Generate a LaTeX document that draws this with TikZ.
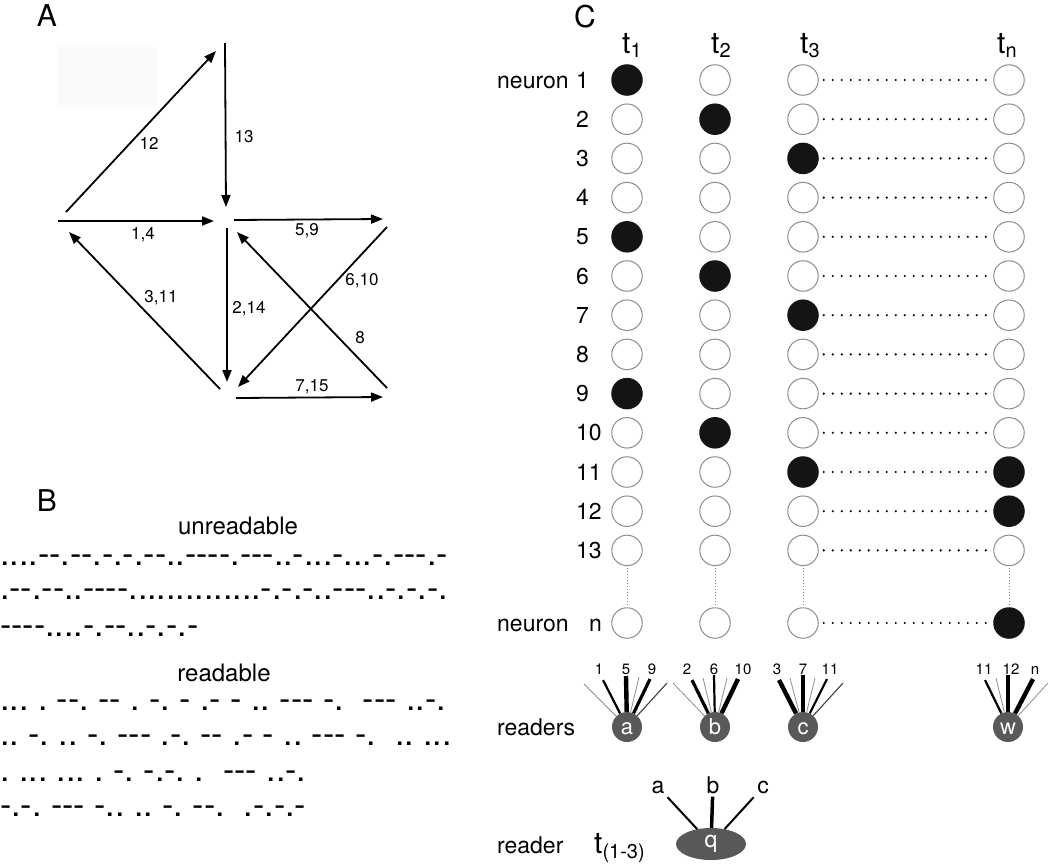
\documentclass[tikz,border=0pt]{standalone}
\usepackage{fontspec}
\setmainfont{TeX Gyre Heros}
\newfontfamily\morsefont{TeX Gyre Heros}
\usetikzlibrary{arrows.meta,shapes.geometric}
\newcommand{\fsz}[1]{\fontsize{#1}{#1}\selectfont}
\tikzset{
  cs-1-1/.style={on}, cs-1-5/.style={on}, cs-1-9/.style={on},
  cs-2-2/.style={on}, cs-2-6/.style={on}, cs-2-10/.style={on},
  cs-3-3/.style={on}, cs-3-7/.style={on}, cs-3-11/.style={on},
  cs-n-11/.style={on}, cs-n-12/.style={on}, cs-n-n/.style={on}
}
\begin{document}
\begin{tikzpicture}[x=1pt,y=-1pt,
  arr/.style={line width=1.8pt,-{Triangle[length=12pt,width=9pt]}},
  alab/.style={font={\fsz{17}},inner sep=0pt},
  plab/.style={font={\fsz{30}},inner sep=0pt},
  morse/.style={font={\morsefont\fsz{34}\frenchspacing},inner sep=0pt,anchor=base west},
  btitle/.style={font={\fsz{24}},inner sep=0pt,anchor=base},
  cell/.style={circle,draw=black!45,line width=1pt,minimum size=30.5pt,inner sep=0pt,fill=white},
  on/.style={fill=black!92,draw=black!92},
  hdots/.style={line width=2.4pt,dash pattern=on 0pt off 9pt,line cap=round,shorten <=5pt,shorten >=4pt},
  vdots/.style={black!50,line width=0.9pt,dash pattern=on 1pt off 2pt,shorten <=2pt,shorten >=2pt},
  rowlbl/.style={font={\fsz{23}},inner sep=0pt,anchor=base west},
  tlbl/.style={font={\fsz{30}},inner sep=0pt,anchor=base west},
  reader/.style={circle,fill=black!65,minimum size=30pt,inner sep=0pt,text=white,font={\fsz{22}},text height=15pt,text depth=0pt},
  fanlbl/.style={font={\fsz{15}},inner sep=0pt,anchor=base},
  fthin/.style={line width=0.8pt,black!45},
  fdark/.style={line width=1.1pt,black!75},
  fmed/.style={line width=2.2pt,black},
  fbold/.style={line width=3.2pt,black},
  fthick/.style={line width=4.4pt,black}
]
\useasboundingbox (0,0) rectangle (1050,865);

% ---------------- Panel A ----------------
\node[plab] (A) at (47,16) {A};
\fill[black!2] (57,47) rectangle (157,105);
\coordinate (s12) at (66,212);   \coordinate (e12) at (216,51);
\coordinate (s13) at (225,43);   \coordinate (e13) at (226,207);
\coordinate (s14) at (58,221);   \coordinate (e14) at (214,221);
\coordinate (s59) at (234,220);  \coordinate (e59) at (383,219);
\coordinate (s214) at (227,228); \coordinate (e214) at (227,382);
\coordinate (s311) at (220,389); \coordinate (e311) at (69,232);
\coordinate (s610) at (387,227); \coordinate (e610) at (238,387);
\coordinate (s8) at (387,388);   \coordinate (e8) at (237,232);
\coordinate (s715) at (236,398); \coordinate (e715) at (383,397);
\draw[arr] (s12) -- (e12);
\draw[arr] (s13) -- (e13);
\draw[arr] (s14) -- (e14);
\draw[arr] (s59) -- (e59);
\draw[arr] (s214) -- (e214);
\draw[arr] (s311) -- (e311);
\draw[arr] (s610) -- (e610);
\draw[arr] (s8) -- (e8);
\draw[arr] (s715) -- (e715);
\node[alab] (l12) at (149,143) {12};
\node[alab] (l13) at (244,137) {13};
\node[alab] (l14) at (143,235) {1,4};
\node[alab] (l59) at (307,231) {5,9};
\node[alab] (l311) at (161,298) {3,11};
\node[alab] (l214) at (249,309) {2,14};
\node[alab] (l610) at (362,281) {6,10};
\node[alab] (l8) at (360,338) {8};
\node[alab] (l715) at (312,387) {7,15};

% ---------------- Panel B ----------------
\node[plab] (B) at (47,501) {B};
\node[btitle] (unr) at (238,534) {unreadable};
\node[morse] (u1) at (0,565) {....--.--.-.-.--..----.---..-...-...-.---.-};
\node[morse] (u2) at (0,599) {.--.--..----..............-.-.-..---..-.-.-.};
\node[morse] (u3) at (0,636) {----....-.--..-.-.-};
\node[btitle] (rdb) at (224,681) {readable};
\node[morse] (r1) at (0,710.5) {... . --. -- . -. - .- - .. --- -.~~--- ..-.};
\node[morse] (r2) at (0,745.5) {.. -. .. -. --- .-. -- .- - .. --- -.~~.. ...};
\node[morse] (r3) at (0,781) {. ... ... . -. -.-. .~~--- ..-.};
\node[morse] (r4) at (0,816) {-.-. --- -.. .. -. --.~~.-.-.-};

% ---------------- Panel C ----------------
\node[plab] (C) at (585,17) {C};
\node[tlbl] (t1) at (622,53) {t\raisebox{-4pt}{\fsz{20}1}};
\node[tlbl] (t2) at (711,53) {t\raisebox{-4pt}{\fsz{20}2}};
\node[tlbl] (t3) at (800,53) {t\raisebox{-4pt}{\fsz{20}3}};
\node[tlbl] (tn) at (997,53) {t\raisebox{-4pt}{\fsz{20}n}};

\foreach \c/\x in {1/627,2/715,3/803,n/1009} {
  \foreach \r in {1,...,13} {
    \node[cell,cs-\c-\r/.try] (c-\c-\r) at (\x,{80+39.2*(\r-1)}) {};
  }
  \node[cell,cs-\c-n/.try] (c-\c-n) at (\x,623) {};
}
\foreach \r in {1,...,13,n} \draw[hdots] (c-3-\r) -- (c-n-\r);
\foreach \c in {1,2,3,n} \draw[vdots] (c-\c-13) -- (c-\c-n);

\node[rowlbl] (nrn-1) at (497,88) {neuron};
\foreach \r in {1,...,13} \node[rowlbl] (rl-\r) at (576,{88+39.2*(\r-1)}) {\r};
\node[rowlbl] (nrn-n) at (497,631) {neuron};
\node[rowlbl] (rl-n) at (589,631) {n};

% readers
\node[rowlbl] (rdrs) at (497,735) {readers};
\node[reader] (ra) at (627,727) {a};
\node[reader] (rb) at (715,727) {b};
\node[reader] (rc) at (803,727) {c};
\node[reader] (rw) at (1008,727) {w};
\foreach \t/\x in {1/599,5/626,9/652,2/687,6/714,10/743,3/777,7/803,11/830,11/984,12/1011,n/1035}
  \node[fanlbl] at (\x,674) {\t};
\foreach \rd/\cx/\dx/\dy/\st [count=\i] in {
  ra/627/-43/-43/fthin, ra/627/-24/-47/fmed, ra/627/-1/-51/fthick, ra/627/12/-50/fthin, ra/627/23/-48/fbold, ra/627/40/-44/fdark,
  rb/715/-42/-44/fthin, rb/715/-23/-47/fbold, rb/715/-12/-49/fthin, rb/715/-1/-52/fmed, rb/715/12/-49/fthin, rb/715/23/-48/fthick,
  rc/803/-24/-47/fthick, rc/803/-13/-49/fthin, rc/803/0/-52/fbold, rc/803/12/-49/fthin, rc/803/24/-48/fmed, rc/803/40/-44/fdark,
  rw/1008/-23/-47/fmed, rw/1008/-12/-49/fthin, rw/1008/0/-52/fbold, rw/1008/25/-48/fthick, rw/1008/40/-44/fthin}
{
  \coordinate (ft\i) at ({\cx+\dx},{727+\dy});
  \draw[\st] (ft\i) -- (\rd);
}

% reader q
\node[rowlbl] (rdr) at (497,853) {reader};
\node[tlbl] (tq) at (594,853) {t\raisebox{-5pt}{\fsz{20}(1-3)}};
\node[ellipse,fill=black!65,minimum width=70pt,minimum height=32pt,inner sep=0pt,text=white,font={\fsz{23}}] (q) at (711,844) {q};
\node[font={\fsz{23}},inner sep=0pt,anchor=base] (qa) at (658,793) {a};
\node[font={\fsz{23}},inner sep=0pt,anchor=base] (qb) at (713,793) {b};
\node[font={\fsz{23}},inner sep=0pt,anchor=base] (qc) at (763,793) {c};
\draw[line width=2pt,shorten <=5pt] (qa) -- (q);
\draw[line width=3.5pt,shorten <=3pt] (qb) -- (q);
\draw[line width=2pt,shorten <=5pt] (qc) -- (q);
\end{tikzpicture}
\end{document}
